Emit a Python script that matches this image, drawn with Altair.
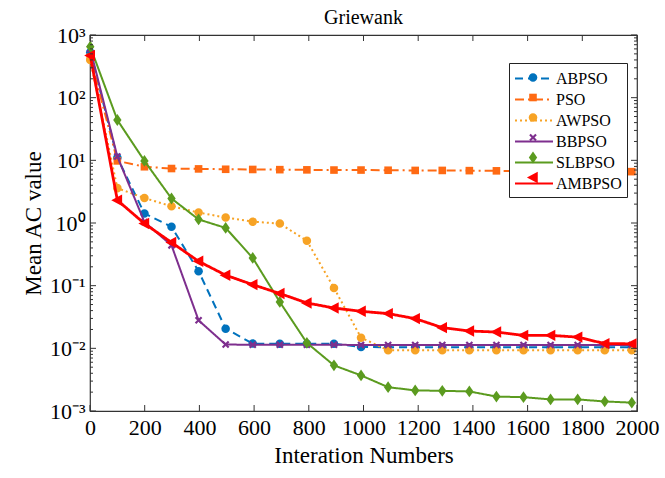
import altair as alt
import pandas as pd

# ---------------- data ----------------
iterations = [1 + 99 * k for k in range(21)]
series_names = ["ABPSO", "PSO", "AWPSO", "BBPSO", "SLBPSO", "AMBPSO"]

abpso = [530, 11, 1.42, 0.87, 0.17, 0.0206, 0.0119, 0.0118, 0.0118, 0.0118,
         0.0105, 0.0104, 0.0104, 0.0104, 0.0104, 0.0104, 0.0104, 0.0104, 0.0104, 0.0104, 0.0104]
pso = [440, 9.8, 7.9, 7.4, 7.3, 7.2, 7.15, 7.1, 7.05, 7.0,
       7.0, 6.95, 6.9, 6.9, 6.85, 6.8, 6.75, 6.75, 6.7, 6.7, 6.6]
awpso = [400, 3.6, 2.5, 1.85, 1.47, 1.22, 1.05, 0.98, 0.52, 0.092,
         0.0148, 0.0093, 0.0093, 0.0093, 0.0093, 0.0093, 0.0093, 0.0093, 0.0093, 0.0093, 0.0093]
bbpso = [600, 11.5, 1.04, 0.44, 0.028, 0.0115, 0.0114, 0.0114, 0.0114, 0.0114,
         0.0113, 0.0113, 0.0113, 0.0113, 0.0113, 0.0113, 0.0113, 0.0113, 0.0113, 0.0113, 0.0113]
slbpso = [650, 44, 9.8, 2.46, 1.14, 0.835, 0.277, 0.055, 0.0122, 0.00535,
          0.0037, 0.0024, 0.00213, 0.0021, 0.00205, 0.0017, 0.00166, 0.00153, 0.00153, 0.00142, 0.00136]
ambpso = [470, 2.31, 0.98, 0.49, 0.245, 0.147, 0.104, 0.075, 0.053, 0.044,
          0.039, 0.0358, 0.0298, 0.0214, 0.0189, 0.0182, 0.0161, 0.0161, 0.0151, 0.0119, 0.0118]

all_values = [abpso, pso, awpso, bbpso, slbpso, ambpso]

x_tick_values = list(range(0, 2001, 200))
y_major_values = [0.001, 0.01, 0.1, 1, 10, 100, 1000]
y_minor_values = [m * 10.0 ** e for e in range(-3, 3) for m in range(2, 10)]

# ---------------- styles ----------------
colors = ["#0072BD", "#FF6A13", "#F7A325", "#7E2F8E", "#5B9B1F", "#FF0000"]
dashes = [[8, 5], [9, 4, 2, 4], [2, 3], [1, 0], [1, 0], [1, 0]]
widths = [2, 2, 2, 2, 2, 2.8]
shapes = [
    "M-0.45,0A0.45,0.45 0 1,0 0.45,0A0.45,0.45 0 1,0 -0.45,0Z",
    "M-0.4,-0.4L0.4,-0.4L0.4,0.4L-0.4,0.4Z",
    "M-0.45,0A0.45,0.45 0 1,0 0.45,0A0.45,0.45 0 1,0 -0.45,0Z",
    "M-0.4,-0.24L-0.24,-0.4L0,-0.16L0.24,-0.4L0.4,-0.24L0.16,0L0.4,0.24L0.24,0.4L0,0.16L-0.24,0.4L-0.4,0.24L-0.16,0Z",
    "M0,-0.62L0.44,0L0,0.62L-0.44,0Z",
    "M-0.64,0L0.5,-0.6L0.5,0.6Z",
]

W, H = 547, 376
SYM = 361
FONT = "Liberation Serif"

rows = []
for name, vals in zip(series_names, all_values):
    for it, v in zip(iterations, vals):
        rows.append({"iter": it, "val": v, "series": name, "series2": name + " "})
df = pd.DataFrame(rows)
series2_names = [n + " " for n in series_names]

xenc = alt.X("iter:Q",
             scale=alt.Scale(domain=[0, 2000], nice=False, zero=False),
             axis=alt.Axis(values=x_tick_values, title="Interation Numbers", format="d",
                           labelPadding=6, titlePadding=6, tickSize=0, domain=False,
                           grid=False, labelFlush=False))
yenc = alt.Y("val:Q",
             scale=alt.Scale(type="log", domain=[0.001, 1000], nice=False),
             axis=alt.Axis(values=y_major_values, title="Mean AC value",
                           labelExpr="{'0.001':'10\\u207b\\u00b3','0.01':'10\\u207b\\u00b2','0.1':'10\\u207b\\u00b9','1':'10\\u2070','10':'10\\u00b9','100':'10\\u00b2','1000':'10\\u00b3'}[datum.value]",
                           labelPadding=5, titlePadding=4, tickSize=0, domain=False,
                           grid=False, labelFlush=False))

legA = alt.Legend(title=None, orient="none", legendX=419, legendY=28,
                  symbolType="M-1,0L3,0", symbolSize=SYM, symbolStrokeWidth=2,
                  labelFont=FONT, labelFontSize=16, labelOffset=21, rowPadding=2,
                  padding=5, strokeColor="#222", fillColor="white", labelColor="black")
legB = alt.Legend(title=None, orient="none", legendX=428.5, legendY=28,
                  symbolSize=SYM, symbolStrokeWidth=0, symbolOpacity=1,
                  labelFont=FONT, labelFontSize=16, labelOffset=21, rowPadding=2,
                  padding=5, labelExpr="''")

color_scale = alt.Scale(domain=series_names, range=colors)
dash_scale = alt.Scale(domain=series_names, range=dashes)
fill_scale = alt.Scale(domain=series2_names, range=colors)
shape_scale = alt.Scale(domain=series2_names, range=shapes)

base = alt.Chart(df)
layers = []
for name, w in zip(series_names, widths):
    sub = base.transform_filter(alt.datum.series == name)
    layers.append(sub.mark_line(strokeWidth=w).encode(
        x=xenc, y=yenc,
        color=alt.Color("series:N", scale=color_scale, legend=legA),
        strokeDash=alt.StrokeDash("series:N", scale=dash_scale, legend=legA),
    ))
    layers.append(sub.mark_point(filled=True, size=SYM, opacity=1).encode(
        x=xenc, y=yenc,
        fill=alt.Fill("series2:N", scale=fill_scale, legend=legB),
        shape=alt.Shape("series2:N", scale=shape_scale, legend=legB),
    ))

# inward ticks
xt = alt.Chart(pd.DataFrame({"iter": x_tick_values}))
ymaj = alt.Chart(pd.DataFrame({"val": y_major_values}))
ymin = alt.Chart(pd.DataFrame({"val": y_minor_values}))
tick_color = "#333"
layers += [
    xt.mark_rule(color=tick_color).encode(x=xenc, y=alt.value(H), y2=alt.value(H - 6)),
    xt.mark_rule(color=tick_color).encode(x=xenc, y=alt.value(0), y2=alt.value(6)),
    ymaj.mark_rule(color=tick_color).encode(y=yenc, x=alt.value(0), x2=alt.value(6)),
    ymaj.mark_rule(color=tick_color).encode(y=yenc, x=alt.value(W - 6), x2=alt.value(W)),
    ymin.mark_rule(color=tick_color).encode(y=yenc, x=alt.value(0), x2=alt.value(3)),
    ymin.mark_rule(color=tick_color).encode(y=yenc, x=alt.value(W - 3), x2=alt.value(W)),
]

chart = alt.layer(*layers).properties(
    width=W, height=H,
    title=alt.Title("Griewank", frame="group"),
    padding={"left": 90, "top": 35, "right": 28, "bottom": 67},
    autosize=alt.AutoSizeParams(type="none"),
).configure_view(stroke="#333", strokeWidth=1.2).configure_axis(
    labelFont=FONT, labelFontSize=22, labelColor="black",
    titleFont=FONT, titleFontSize=23, titleFontWeight="normal", titleColor="black",
).configure_title(
    font=FONT, fontSize=20, fontWeight="normal", color="black", offset=-4, anchor="middle",
)

chart.save("out.html", embed_options={"renderer": "svg", "actions": False})
